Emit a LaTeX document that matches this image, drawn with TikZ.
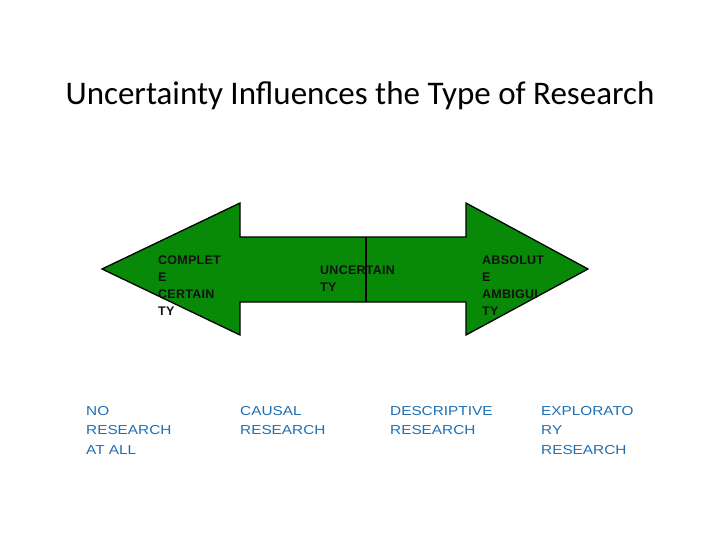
\documentclass[tikz,border=0pt]{standalone}
\usepackage{fontspec}
\setmainfont{Liberation Sans}
\newfontfamily\titlefont{Carlito}
\newfontfamily\arrowfont[LetterSpace=2]{Liberation Sans}
\newfontfamily\typefont[FakeStretch=1.18]{Liberation Sans}
\usepackage{xcolor}
\definecolor{arrowgreen}{HTML}{088A08}
\definecolor{typeblue}{HTML}{1F6FB2}
\definecolor{ink}{HTML}{111111}

\begin{document}
\begin{tikzpicture}[x=1pt, y=-1pt]
  \def\Y{269}     % axis of the double arrow
  \def\Ht{203}    % top of both heads
  \def\Hb{335}    % bottom of both heads
  \def\St{237}    % top of the shaft
  \def\Sb{302}    % bottom of the shaft
  \useasboundingbox (0,0) rectangle (720,540);
  \tikzset{
    inarrow/.style={anchor=north west, inner sep=0pt, align=left,
                    font=\arrowfont\bfseries\fontsize{12.5}{17}\selectfont, text=ink},
    restype/.style={anchor=north west, inner sep=0pt, align=left,
                    font=\typefont\fontsize{13}{19.5}\selectfont, text=typeblue}}

  % ========== the title ==========
  \node[anchor=base, font=\titlefont\fontsize{33}{38}\selectfont] (title)
    at (360,105) {Uncertainty Influences the Type of Research};

  % ========== the double arrow, from certainty to ambiguity ==========
  \filldraw[fill=arrowgreen, draw=black, line width=1.3pt, line join=miter]
    (102,\Y) -- (240,\Ht) -- (240,\St) -- (466,\St) -- (466,\Ht)
    -- (588,\Y) -- (466,\Hb) -- (466,\Sb) -- (240,\Sb) -- (240,\Hb) -- cycle;
  % the mark in the middle of the shaft
  \draw[black, line width=1.3pt] (366,\St) -- (366,\Sb);

  % the three states along the arrow
  \node[inarrow] (certain)   at (158,256) {COMPLET\\E\\CERTAIN\\TY};
  \node[inarrow] (uncertain) at (320,266) {UNCERTAIN\\TY};
  \node[inarrow] (ambiguous) at (482,256) {ABSOLUT\\E\\AMBIGUI\\TY};

  % ========== the research that goes with each ==========
  \node[restype] (none)        at (86,406)  {NO\\RESEARCH\\AT ALL};
  \node[restype] (causal)      at (240,406) {CAUSAL\\RESEARCH};
  \node[restype] (descriptive) at (390,406) {DESCRIPTIVE\\RESEARCH};
  \node[restype] (exploratory) at (541,406) {EXPLORATO\\RY\\RESEARCH};
\end{tikzpicture}
\end{document}
